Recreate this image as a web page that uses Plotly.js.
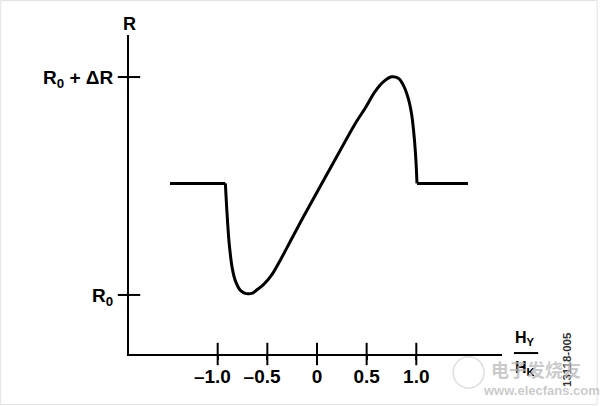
<!DOCTYPE html>
<html>
<head>
<meta charset="utf-8">
<script src="https://cdn.plot.ly/plotly-3.0.1.min.js"></script>
<style>html,body{margin:0;padding:0;background:#fff;}#chart{width:600px;height:406px;}</style>
</head>
<body>
<div id="chart"></div>
<script>
// Normalised field H_Y/H_K
const hField = [-1.48, -0.923, -0.909, -0.886, -0.853, -0.819, -0.775, -0.735, -0.692, -0.65, -0.607, -0.541, -0.456, -0.355, -0.272, -0.138, 0.114, 0.383, 0.483, 0.584, 0.668, 0.752, 0.819, 0.869, 0.919, 0.954, 0.98, 0.997, 1.007, 1.52];
// Resistance, 0 = R0, 1 = R0 + ΔR
const resistance = [0.512, 0.512, 0.398, 0.245, 0.122, 0.061, 0.023, 0.01, 0.005, 0.008, 0.023, 0.046, 0.092, 0.172, 0.243, 0.358, 0.565, 0.785, 0.856, 0.933, 0.978, 1.001, 0.994, 0.963, 0.902, 0.826, 0.719, 0.611, 0.512, 0.512];

const xTickVals = [-1.0, -0.5, 0, 0.5, 1.0];
const xTickText = ['–1.0\u2007', '–0.5\u2007', '0', '0.5', '1.0'];
const yTickVals = [0, 1];
const yTickText = ['R<sub>0</sub>', 'R<sub>0</sub> + ΔR'];

const xRange = [-1.893, 1.863];
const yRange = [-0.271, 1.193];
const FONT = 'Liberation Sans, Arial, sans-serif';
const bold = (size, color) => ({family: FONT, size: size, color: color || '#000', weight: 'bold'});

const n = hField.length;
const lineStyle = {color: '#000', width: 3};
const traces = [
  // left saturated level
  {x: hField.slice(0, 2), y: resistance.slice(0, 2), type: 'scatter', mode: 'lines',
   line: Object.assign({shape: 'linear'}, lineStyle), hoverinfo: 'skip', showlegend: false},
  // switching curve
  {x: hField.slice(1, n - 1), y: resistance.slice(1, n - 1), type: 'scatter', mode: 'lines',
   line: Object.assign({shape: 'spline', smoothing: 0.8}, lineStyle), hoverinfo: 'skip', showlegend: false},
  // right saturated level
  {x: hField.slice(n - 2), y: resistance.slice(n - 2), type: 'scatter', mode: 'lines',
   line: Object.assign({shape: 'linear'}, lineStyle), hoverinfo: 'skip', showlegend: false},
  // tick marks crossing the x axis line
  {x: xTickVals, y: xTickVals.map(() => yRange[0]), type: 'scatter', mode: 'markers',
   cliponaxis: false, marker: {symbol: 'line-ns', size: 16, line: {color: '#000', width: 2}},
   hoverinfo: 'skip', showlegend: false},
  // tick marks crossing the y axis line
  {x: yTickVals.map(() => xRange[0]), y: yTickVals, type: 'scatter', mode: 'markers',
   cliponaxis: false, marker: {symbol: 'line-ew', size: 16, line: {color: '#000', width: 2}},
   hoverinfo: 'skip', showlegend: false}
];

const layout = {
  width: 600, height: 406,
  margin: {l: 129, r: 98, t: 35, b: 52},
  paper_bgcolor: '#fff', plot_bgcolor: '#fff',
  font: bold(19),
  xaxis: {range: xRange, showgrid: false, zeroline: false, showline: true,
    linecolor: '#000', linewidth: 2, ticks: 'outside', ticklen: 4, tickwidth: 2,
    tickcolor: '#000', tickvals: xTickVals, ticktext: xTickText,
    ticklabelstandoff: 0, tickfont: bold(19), fixedrange: true},
  yaxis: {range: yRange, showgrid: false, zeroline: false, showline: true,
    linecolor: '#000', linewidth: 2, ticks: 'outside', ticklen: 8, tickwidth: 2,
    tickcolor: '#000', tickvals: yTickVals, ticktext: yTickText,
    ticklabelstandoff: 2, tickfont: bold(19), fixedrange: true},
  annotations: [
    {text: 'R', xref: 'paper', yref: 'paper', x: 0, y: 1.034, xanchor: 'center', yanchor: 'middle',
     showarrow: false, font: bold(18)},
    {text: 'H<sub>Y</sub>', xref: 'paper', yref: 'paper', x: 1.062, y: 0.05, xanchor: 'center', yanchor: 'middle',
     showarrow: false, font: bold(16)},
    {text: 'H<sub>K</sub>', xref: 'paper', yref: 'paper', x: 1.062, y: -0.045, xanchor: 'center', yanchor: 'middle',
     showarrow: false, font: bold(16)},
    {text: '13118-005', xref: 'paper', yref: 'paper', x: 1.174, y: -0.016, xanchor: 'center', yanchor: 'middle',
     textangle: -90, showarrow: false, font: bold(11.5, '#333')},
    {text: '电子发烧友', xref: 'paper', yref: 'paper', x: 1.09, y: -0.047, xanchor: 'center', yanchor: 'middle',
     showarrow: false, font: {family: 'Noto Sans CJK SC', size: 18, color: 'rgba(185,185,185,0.75)'}},
    {text: 'www.elecfans.com', xref: 'paper', yref: 'paper', x: 1.107, y: -0.113, xanchor: 'center', yanchor: 'middle',
     showarrow: false, font: {family: FONT, size: 13, color: 'rgba(185,185,185,0.75)'}}
  ],
  shapes: [
    {type: 'line', xref: 'paper', yref: 'paper', x0: 1.032, x1: 1.097, y0: 0.003, y1: 0.003,
     line: {color: '#000', width: 2}},
    {type: 'circle', xref: 'paper', yref: 'paper', x0: 0.869, x1: 0.952, y0: -0.107, y1: -0.009,
     line: {color: 'rgba(200,200,200,0.6)', width: 1.5}},
    {type: 'rect', xref: 'paper', yref: 'paper', x0: -0.344, x1: 1.255, y0: -0.158, y1: 1.108,
     line: {color: '#e2e2e2', width: 1}}
  ]
};

Plotly.newPlot('chart', traces, layout, {staticPlot: true, displayModeBar: false});
</script>
</body>
</html>
